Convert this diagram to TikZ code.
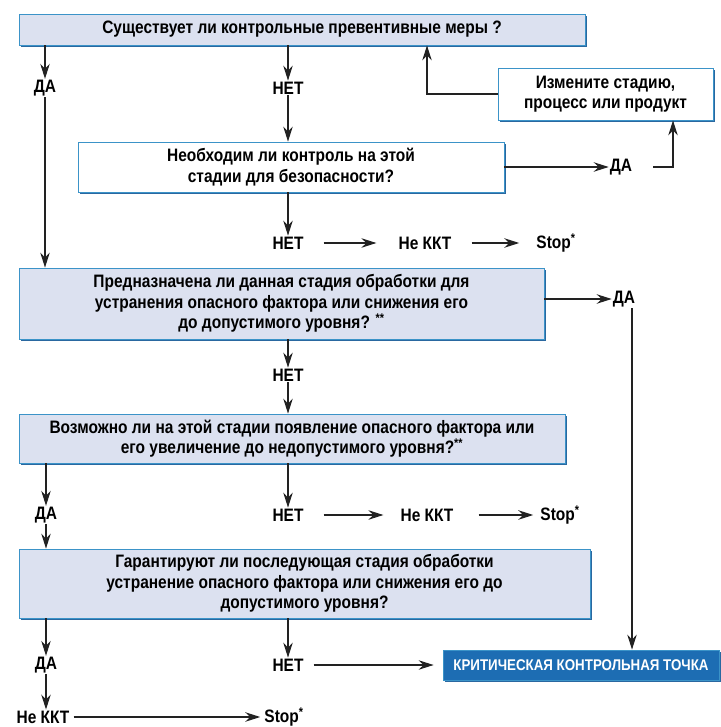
\documentclass[tikz,border=0pt]{standalone}
\usepackage{fontspec}
\setmainfont{Liberation Sans}[FakeStretch=0.86]
\usetikzlibrary{positioning,arrows.meta,shadows}

\definecolor{boxfill}{HTML}{DCE1F0}
\definecolor{boxline}{HTML}{3B93C8}
\definecolor{boxshade}{HTML}{2A68A0}
\definecolor{ccpblue}{HTML}{1D6DB3}
\definecolor{arrowgray}{HTML}{222222}

\begin{document}
\begin{tikzpicture}[x=1pt,y=-1pt,
  every node/.style={font=\fontsize{18}{20.5}\selectfont\bfseries},
  qbox/.style={draw=boxline,line width=0.8pt,fill=boxfill,align=center,inner sep=0pt,
    drop shadow={shadow xshift=2.2pt,shadow yshift=-2.2pt,fill=boxshade,opacity=1}},
  wbox/.style={qbox,fill=white},
  ccpbox/.style={qbox,fill=ccpblue,text=white,font=\fontsize{15.5}{18}\selectfont\bfseries},
  ans/.style={inner sep=1pt},
  arr/.style={-{Stealth[length=15pt,width=9.5pt,inset=5pt]},draw=arrowgray,line width=1.1pt},
  harr/.style={arr,shorten <=19pt,shorten >=16pt}]
  \useasboundingbox (0,0) rectangle (720,727);

  % question boxes
  \node[qbox,minimum width=566,minimum height=31] (q1) at (302,29.5)
    {Существует ли контрольные превентивные меры ?};
  \node[wbox,minimum width=215,minimum height=52] (ch) at (605.5,94)
    {Измените стадию,\\процесс или продукт};
  \node[wbox,minimum width=426,minimum height=50] (q2) at (291,167)
    {Необходим ли контроль на этой\\стадии для безопасности?};
  \node[qbox,minimum width=525,minimum height=71] (q3) at (281.5,303.5)
    {Предназначена ли данная стадия обработки для\\устранения опасного фактора или снижения его\\до допустимого уровня? \textsuperscript{**}};
  \node[qbox,minimum width=546,minimum height=49] (q4) at (292,438.5)
    {Возможно ли на этой стадии появление опасного фактора или\\его увеличение до недопустимого уровня?\textsuperscript{**}};
  \node[qbox,minimum width=571,minimum height=69] (q5) at (304.5,583.5)
    {Гарантируют ли последующая стадия обработки\\устранение опасного фактора или снижения его до\\допустимого уровня?};
  \node[ccpbox,minimum width=276,minimum height=30] (ccp) at (581,665)
    {КРИТИЧЕСКАЯ КОНТРОЛЬНАЯ ТОЧКА};

  % answers
  \node[ans] (da1) at (45,88) {ДА};
  \node[ans] (net1) at (288,88) {НЕТ};
  \node[ans] (da2) at (621,167) {ДА};
  \node[ans] (net2) at (288,243) {НЕТ};
  \node[ans] (nk2) at (425,243) {Не ККТ};
  \node[ans] (st2) at (556,243) {Stop\textsuperscript{*}};
  \node[ans] (da3) at (624,299) {ДА};
  \node[ans] (net3) at (288,375) {НЕТ};
  \node[ans] (da4) at (46,515) {ДА};
  \node[ans] (net4) at (288,515) {НЕТ};
  \node[ans] (nk4) at (427,515) {Не ККТ};
  \node[ans] (st4) at (560,515) {Stop\textsuperscript{*}};
  \node[ans] (da5) at (46,665) {ДА};
  \node[ans] (net5) at (288,665) {НЕТ};
  \node[ans] (nk5) at (43,717) {Не ККТ};
  \node[ans] (st5) at (284,717) {Stop\textsuperscript{*}};
  \coordinate (ret) at (427,0);
  \coordinate (ret2) at (673,0);
  \coordinate (ret3) at (632,0);

  % connectors
  \draw[arr] (q1.south -| da1) -- (da1.north);
  \draw[arr] (q1.south -| net1) -- (net1.north);
  \draw[arr] (net1.south) -- (q2.north -| net1);
  \draw[arr] (ch.west) -| (ret |- q1.south);
  \draw[arr] (q2.east |- da2) -- (da2.west);
  \draw[arr,shorten <=20pt] (da2.east) -| (ret2 |- ch.south);
  \draw[arr] (q2.south -| net2) -- (net2.north);
  \draw[harr,shorten >=21pt] (net2) -- (nk2);
  \draw[harr] (nk2) -- (st2);
  \draw[arr] (da1.south) -- (q3.north -| da1);
  \draw[arr] (q3.east |- da3) -- (da3.west);
  \draw[arr] (ret3 |- da3.south) -- (ret3 |- ccp.north);
  \draw[arr] (q3.south -| net3) -- (net3.north);
  \draw[arr] (net3.south) -- (q4.north -| net3);
  \draw[arr] (q4.south -| da4) -- (da4.north);
  \draw[arr] (q4.south -| net4) -- (net4.north);
  \draw[harr] (net4) -- (nk4);
  \draw[harr,shorten <=24pt,shorten >=6pt] (nk4) -- (st4);
  \draw[arr] (da4.south) -- (q5.north -| da4);
  \draw[arr] (q5.south -| da5) -- (da5.north);
  \draw[arr] (q5.south -| net5) -- (net5.north);
  \draw[harr,shorten <=9pt,shorten >=9pt] (net5) -- (ccp.west);
  \draw[arr] (da5.south) -- (da5.south |- nk5.north);
  \draw[harr,shorten <=3pt,shorten >=3pt] (nk5) -- (st5);
\end{tikzpicture}
\end{document}
